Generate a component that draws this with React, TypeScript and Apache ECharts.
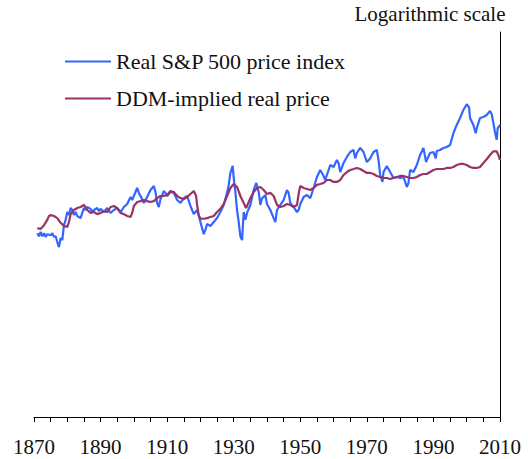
import React, { useEffect, useRef } from "react";
import * as echarts from "echarts";

const sp500Years = [1871,1871.5,1872,1872.5,1873,1873.5,1874,1875,1875.5,1876,1876.5,1877,1877.5,1878,1878.5,1879,1879.5,1880,1880.5,1881,1881.5,1882,1882.5,1883,1884,1884.5,1885,1885.5,1886,1887,1887.5,1888,1889,1889.5,1890,1891,1892,1893,1894,1895,1896,1897,1898,1899,1899.5,1900,1901,1901.5,1902,1903,1903.5,1904,1905,1906,1906.5,1907,1907.5,1908,1909,1909.5,1910,1911,1912,1913,1914,1915,1916,1917,1918,1918.5,1919,1920,1920.5,1921,1921.5,1922,1923,1924,1925,1926,1927,1928,1928.5,1929,1929.7,1930,1930.5,1931,1931.5,1932,1932.5,1933,1933.5,1934,1935,1936,1936.8,1937.5,1938,1938.5,1939,1939.5,1940,1941,1942,1942.5,1943,1944,1945,1946,1946.5,1947,1948,1949,1949.5,1950,1951,1952,1953,1954,1955,1956,1957,1957.5,1958,1959,1960,1961,1961.5,1962,1963,1964,1965,1966,1966.5,1967,1968,1969,1970,1971,1972,1973,1973.5,1974,1974.7,1975,1976,1977,1978,1979,1980,1981,1982,1982.5,1983,1984,1985,1986,1987,1987.8,1988,1989,1990,1990.7,1991,1992,1993,1994,1995,1996,1997,1998,1999,2000,2000.7,2001,2002,2002.7,2003,2004,2005,2006,2007,2007.5,2008,2008.5,2009,2009.3,2010];
const sp500Values = [84,78,87,78,84,77,82,80,84,77,78,68,60,75,71,102,116,140,130,154,147,130,140,127,121,137,154,147,158,151,140,147,154,143,151,140,154,137,147,154,140,158,170,201,187,206,250,222,206,174,187,201,238,262,227,174,158,191,232,222,206,227,222,187,174,196,206,162,133,140,147,110,95,82,91,105,100,110,121,140,166,222,269,359,425,318,227,147,110,78,71,140,116,137,166,238,282,227,166,196,201,211,170,147,121,110,147,166,187,238,222,174,158,140,147,170,201,211,196,250,326,386,334,303,342,435,415,491,457,367,457,528,595,625,510,581,656,595,467,510,595,625,491,342,289,367,425,367,318,326,318,326,256,282,386,367,435,554,656,467,491,581,595,510,610,625,656,672,705,935,1142,1350,1640,1880,1750,1350,1142,935,1050,1350,1384,1450,1600,1490,1200,960,797,1050,1142];

const ddmYears = [1871,1872,1873,1874,1874.5,1875,1876,1877,1878,1879,1880,1880.5,1881,1882,1883,1884,1885,1886,1887,1888,1889,1890,1891,1892,1893,1894,1895,1896,1897,1898,1899,1899.5,1900,1901,1902,1903,1904,1905,1906,1907,1908,1909,1910,1911,1912,1913,1914,1915,1916,1917,1918,1918.7,1919,1919.5,1920,1921,1922,1923,1924,1925,1926,1927,1928,1929,1930,1931,1932,1933,1933.7,1934,1935,1936,1937,1938,1939,1940,1941,1942,1943,1944,1945,1946,1947,1948,1949,1949.6,1950,1951,1952,1953,1954,1955,1956,1957,1958,1959,1960,1961,1962,1963,1964,1965,1966,1967,1968,1969,1970,1971,1972,1973,1974,1975,1976,1977,1978,1979,1980,1981,1982,1983,1984,1985,1986,1987,1988,1989,1990,1991,1992,1993,1994,1995,1996,1997,1998,1999,2000,2001,2002,2003,2004,2005,2006,2007,2008,2009,2009.5,2010];
const ddmValues = [95,93,102,116,127,130,127,121,108,100,98,110,133,147,154,158,166,147,137,140,133,137,143,140,158,162,154,137,133,127,124,137,162,178,182,187,182,178,182,196,206,206,211,232,227,206,196,191,201,216,232,206,166,130,119,119,121,124,127,140,151,170,206,250,275,256,206,174,154,162,196,227,250,256,238,216,222,206,166,158,162,170,166,158,166,227,262,250,244,238,250,269,275,282,303,303,289,289,303,342,367,386,395,405,395,376,359,359,350,334,326,318,318,310,318,326,334,334,326,318,318,326,342,350,350,367,386,395,395,395,405,405,415,435,446,446,435,415,405,405,415,457,500,554,605,605,554,491];

const xTicks = [1870, 1890, 1910, 1930, 1950, 1970, 1990, 2010];

const SERIF = "Liberation Serif";

export default function App() {
  const ref = useRef<HTMLDivElement>(null);
  useEffect(() => {
    if (!ref.current) return;
    const chart = echarts.init(ref.current, undefined, { renderer: "svg" });
    const zip = (xs: number[], ys: number[]) => xs.map((x, i) => [x, ys[i]]);
    chart.setOption({
      animation: false,
      backgroundColor: "#ffffff",
      textStyle: { fontFamily: SERIF },
      title: {
        text: "Logarithmic scale",
        left: 430,
        top: 3,
        padding: 0,
        textAlign: "center",
        textStyle: { fontFamily: SERIF, fontSize: 21, fontWeight: "normal", color: "#111" },
      },
      legend: {
        orient: "vertical",
        left: 65,
        top: 50,
        padding: 0,
        icon: "rect",
        itemWidth: 46,
        itemHeight: 2,
        itemGap: 14,
        textStyle: { fontFamily: SERIF, fontSize: 22, color: "#111", lineHeight: 23 },
        data: ["Real S&P 500 price index", "DDM-implied real price"],
      },
      grid: { left: 34, right: 28, top: 32, bottom: 42, containLabel: false },
      xAxis: {
        type: "value",
        min: 1870,
        max: 2010,
        interval: 20,
        axisLine: { show: true, lineStyle: { color: "#000", width: 1 } },
        axisTick: { show: true, length: 5, lineStyle: { color: "#000" } },
        minorTick: { show: true, splitNumber: 4, length: 5, lineStyle: { color: "#000" } },
        splitLine: { show: false },
        axisLabel: {
          show: true,
          margin: 19,
          fontFamily: SERIF,
          fontSize: 21,
          color: "#111",
          formatter: (v: number) => (xTicks.includes(v) ? String(v) : ""),
        },
      },
      yAxis: {
        type: "log",
        logBase: 10,
        min: 1,
        max: 10740,
        position: "right",
        axisLine: { show: true, lineStyle: { color: "#000", width: 1 } },
        axisTick: { show: false },
        axisLabel: { show: false },
        splitLine: { show: false },
      },
      series: [
        {
          name: "Real S&P 500 price index",
          type: "line",
          data: zip(sp500Years, sp500Values),
          symbol: "none",
          showSymbol: false,
          lineStyle: { color: "#3366ff", width: 2.2 },
          itemStyle: { color: "#3366ff" },
          z: 2,
        },
        {
          name: "DDM-implied real price",
          type: "line",
          data: zip(ddmYears, ddmValues),
          symbol: "none",
          showSymbol: false,
          lineStyle: { color: "#993366", width: 2.2 },
          itemStyle: { color: "#993366" },
          z: 3,
        },
      ],
    });
    return () => chart.dispose();
  }, []);
  return (
    <div
      ref={ref}
      style={{ position: "fixed", left: 0, top: 0, width: 528, height: 459 }}
    />
  );
}
